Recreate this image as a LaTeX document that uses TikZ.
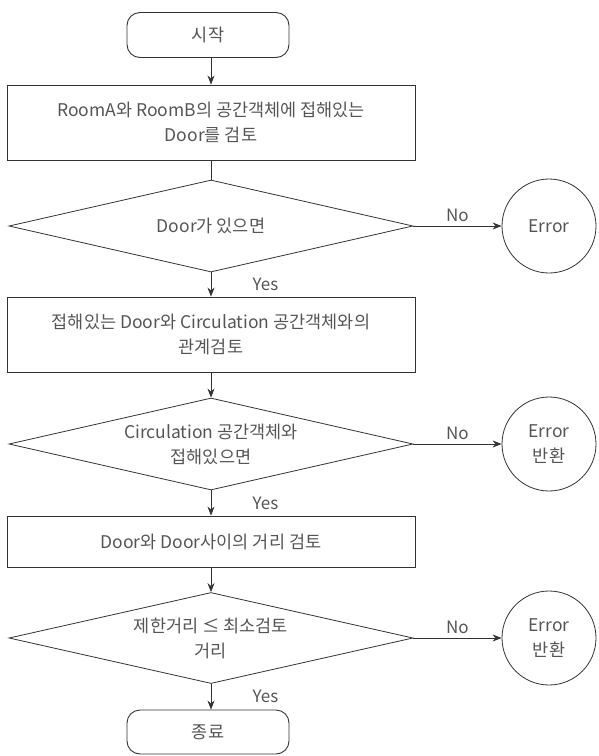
\documentclass[tikz,border=0pt]{standalone}
\usepackage{fontspec}
\setmainfont{Noto Sans CJK KR}
\usetikzlibrary{shapes.geometric,arrows.meta}
\definecolor{ln}{HTML}{333333}
\definecolor{txt}{HTML}{555555}
\begin{document}
\begin{tikzpicture}[x=1pt,y=-1pt,
 every node/.style={font=\fontsize{17.5}{25}\selectfont, text=txt},
 term/.style={draw=ln, line width=0.9pt, rounded corners=13pt, minimum width=162pt, minimum height=45pt, inner sep=0pt},
 proc/.style={draw=ln, line width=0.9pt, minimum width=408pt, inner sep=0pt, align=center},
 dec/.style={draw=ln, line width=0.8pt, diamond, shape aspect=4.4, minimum width=404pt, minimum height=92pt, inner sep=0pt, align=center},
 errc/.style={draw=ln, line width=0.8pt, circle, minimum size=94pt, inner sep=0pt, align=center},
 flow/.style={draw=ln, line width=0.8pt, -{Stealth[length=9pt,width=7pt]}},
 plain/.style={draw=ln, line width=0.8pt},
 lbl/.style={font=\fontsize{17}{20}\selectfont}
]
\useasboundingbox (0,0) rectangle (598,756);

\node[term] (start) at (208,35) {시작};
\node[proc, minimum height=75pt] (r1) at (211,122.5) {RoomA와 RoomB의 공간객체에 접해있는\\Door를 검토};
\node[dec] (d1) at (211,226) {Door가 있으면};
\node[errc] (e1) at (549,226) {Error};
\node[proc, minimum height=75pt] (r2) at (211,334.5) {접해있는 Door와 Circulation 공간객체와의\\관계검토};
\node[dec] (d2) at (211,444) {Circulation 공간객체와\\접해있으면};
\node[errc] (e2) at (549,444) {Error\\반환};
\node[proc, minimum height=51pt] (r3) at (211,541.5) {Door와 Door사이의 거리 검토};
\node[dec, minimum height=91pt] (d3) at (211,638) {제한거리 ≤ 최소검토\\거리};
\node[errc] (e3) at (549,638) {Error\\반환};
\node[term, minimum height=44pt] (end) at (208,732) {종료};

\draw[flow] (start.south -| r1.north) -- (r1.north);
\draw[plain] (r1.south) -- (d1.north);
\draw[flow] (d1.east) -- node[lbl, above=1pt] {No} (e1.west);
\draw[flow] (d1.south) -- node[lbl, anchor=west, xshift=38pt] {Yes} (r2.north);
\draw[flow] (r2.south) -- (d2.north);
\draw[flow] (d2.east) -- node[lbl, above=1pt] {No} (e2.west);
\draw[flow] (d2.south) -- node[lbl, anchor=west, xshift=38pt] {Yes} (r3.north);
\draw[flow] (r3.south) -- (d3.north);
\draw[flow] (d3.east) -- node[lbl, above=1pt] {No} (e3.west);
\draw[flow] (d3.south) -- node[lbl, anchor=west, xshift=38pt] {Yes} (end.north -| d3.south);
\end{tikzpicture}
\end{document}
